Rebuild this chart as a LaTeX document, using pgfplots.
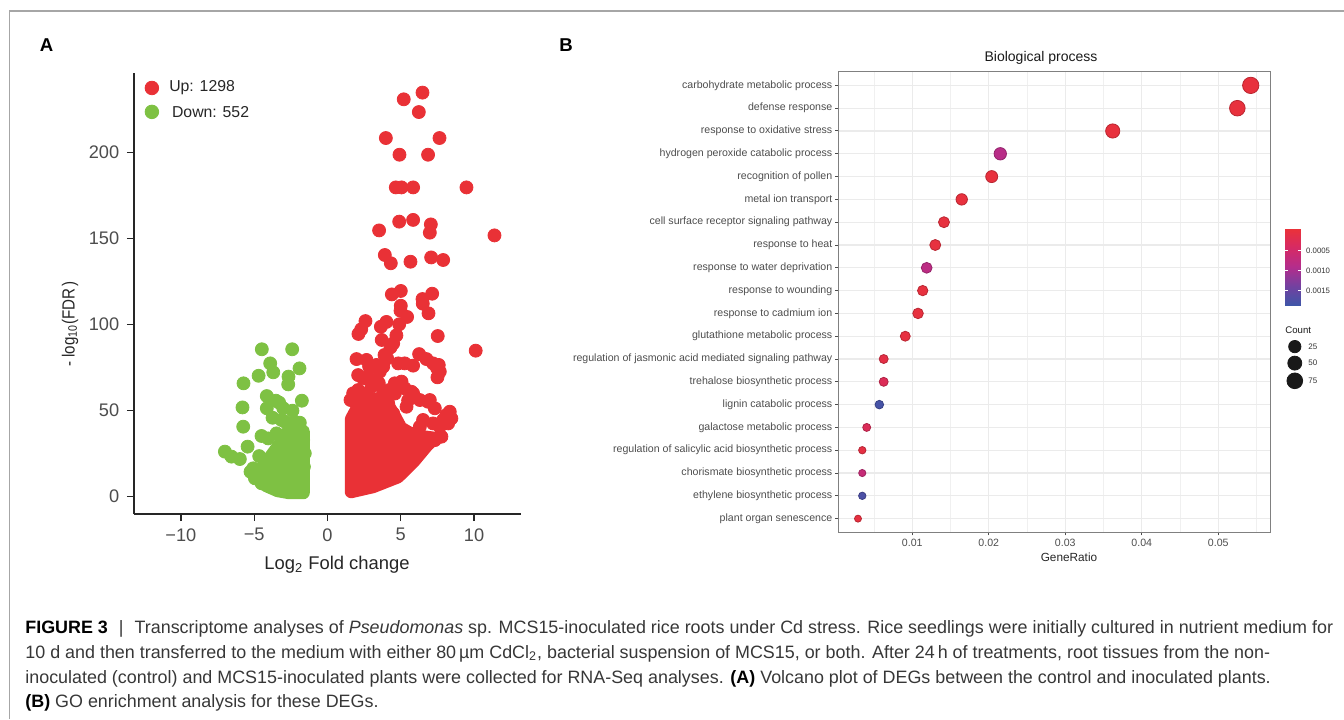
\documentclass[border=0pt]{standalone}
\usepackage{pgfplots}
\pgfplotsset{compat=1.18}
\usepackage{pgfplotstable}
\usepackage{fontspec}
\setmainfont{Liberation Sans}
\newcommand\fs[1]{\fontsize{#1}{#1}\selectfont}
\definecolor{upred}{RGB}{233,49,54}
\definecolor{downgreen}{RGB}{126,193,67}
\definecolor{ticklab}{RGB}{77,77,77}
\definecolor{captxt}{RGB}{55,55,55}

\pgfplotstableread{
x y
6.48 234.9
5.2 231
6.23 223.6
3.98 208.5
7.64 208.5
4.91 198.8
6.86 198.8
4.66 179.8
5.05 179.8
5.84 179.8
9.48 179.8
4.89 159.9
5.84 160.9
7.05 158.3
6.98 153.5
3.52 154.8
11.39 151.9
3.91 140.5
4.32 135.7
5.66 136.6
7.07 139.1
7.89 137.6
4.39 117.6
5.0 119.6
6.48 114.9
6.5 112.2
7.14 118
5.0 111
4.98 108.1
5.43 104.5
6.89 106.6
4.89 100.2
2.59 102.1
2.3 97.3
2.11 94.6
3.64 98.8
4.02 101.6
3.7 91.1
4.7 93.8
4.48 89.1
4.3 86.8
7.52 93.4
10.11 84.9
6.25 82.9
3.89 82.4
4.07 80.4
1.98 80
2.66 79.5
6.75 80
7.2 77.5
7.59 76.6
7.48 74.6
7.66 72.7
7.5 69.4
5.84 76.2
5.27 77.5
4.82 77.5
3.8 75.6
3.34 76.6
2.84 75.6
2.09 70.7
2.43 68.8
2.77 69.8
3.57 72.7
3.11 66.9
4.59 65.9
5.05 66.9
5.27 63
5.73 61
2.09 62
1.75 60.1
1.57 56.2
2.66 60.1
3.8 61
5.84 60.1
6.3 56.2
6.86 55.2
6.98 56.2
7.32 51.4
8.34 49.4
8.45 45.5
8.23 42.6
7.66 40.7
7.2 42.6
6.52 44.6
6.3 40.7
6.18 34.9
7.77 34.9
7.32 32.9
4.48 48.4
5.39 52.3
4.14 54.3
7.89 44.6
8.11 47.5
3.0 64
3.5 66
4.2 62
4.6 60
2.4 57
5.5 56
}\upscatter

\pgfplotstableread{
x y
-4.48 85.7
-2.41 85.7
-3.91 77.5
-3.7 72.3
-1.91 74.6
-4.7 70.3
-2.66 69.8
-2.68 65.3
-5.73 65.9
-4.14 58.5
-3.52 55.8
-3.3 54.7
-1.75 55.8
-5.8 51.9
-4.14 51.4
-3.02 51.4
-2.39 50
-3.75 45.9
-3.14 44.6
-2.23 43.6
-1.89 43
-5.75 40.7
-4.5 35.3
-4.05 33.9
-3.48 36.8
-5.45 29.1
-7.0 26.2
-6.55 23.3
-5.98 21.9
-4.66 23.6
-5.07 16.5
-5.25 14.5
-4.95 10.7
-4.5 7.8
-1.77 38.4
-1.66 32.9
-1.55 25.2
-1.61 17.4
-2.57 40.7
-2.9 43.6
}\downscatter

\pgfplotstableread{
pos ratio padj count ms
20 0.05424 0.00001 66 4.08
19 0.05249 0.00001 64 3.9
18 0.03620 0.00001 44 3.55
17 0.02150 0.00085 26 3.1
16 0.02038 0.00002 25 3.0
15 0.01646 0.00002 20 2.85
14 0.01414 0.00003 17 2.75
13 0.01300 0.00003 16 2.75
12 0.01188 0.00080 15 2.7
11 0.01136 0.00003 14 2.6
10 0.01075 0.00003 13 2.65
9 0.00908 0.00004 11 2.5
8 0.00626 0.00010 8 2.25
7 0.00626 0.00028 8 2.25
6 0.00569 0.00180 7 2.15
5 0.00404 0.00030 5 2.0
4 0.00346 0.00008 4 1.85
3 0.00346 0.00065 4 1.8
2 0.00346 0.00175 4 1.85
1 0.00290 0.00004 4 1.75
}\godata

\begin{document}
\begin{tikzpicture}[x=0.5pt,y=-0.5pt]
\useasboundingbox (0,0) rectangle (1344,719);
\draw[black!35, line width=0.65pt] (9.3,719) -- (9.3,11) -- (1344,11);
\node[font=\bfseries\fs{9.3}] at (46.5,45) {A};
\node[font=\bfseries\fs{9.3}] at (566,45) {B};

% ---------------- Panel A ----------------
\begin{axis}[
  at={(67pt,-257pt)}, anchor=south west, scale only axis,
  width=193.5pt, height=220.5pt,
  xmin=-13.2, xmax=13.2, ymin=-10.06, ymax=246.3,
  axis lines*=left,
  axis line style={line width=0.65pt, black!85},
  xtick={-10,-5,0,5,10}, xticklabels={−10,−5,0,5,10},
  ytick={0,50,100,150,200},
  tick align=outside, major tick length=3.6pt,
  tick style={line width=0.65pt, black!85},
  ticklabel style={font=\fs{9.1}, color=ticklab},
  xticklabel style={inner sep=0pt, yshift=-3.4pt},
  yticklabel style={inner sep=0pt, xshift=-3.6pt},
  /pgf/number format/assume math mode=true,
  clip=false,
]
\addplot[draw=downgreen, fill=downgreen, line width=6.5pt, line join=round, line cap=round]
  coordinates {(-1.65,2.3) (-1.65,38) (-2.2,40) (-2.8,37) (-3.3,30) (-3.9,23) (-4.5,16) (-4.7,11) (-4.2,6.5) (-3.4,3.5) (-2.6,2.3) (-1.65,2.3)};
\addplot[draw=upred, fill=upred, line width=6.5pt, line join=round, line cap=round]
  coordinates {(1.62,2.9) (3.1,5.8) (4.8,11.5) (5.9,20.8) (6.8,30) (7.3,34) (6.4,35) (5.6,37) (5.0,40) (4.5,48) (4.0,55) (3.3,57) (2.6,55) (2.0,51) (1.62,45) (1.62,2.9)};
\addplot[only marks, mark=*, mark size=3.25pt, color=downgreen] table {\downscatter};
\addplot[only marks, mark=*, mark size=3.25pt, color=upred] table {\upscatter};
% legend
\addplot[only marks, mark=*, mark size=3.4pt, color=upred] coordinates {(-11.98,237.6)};
\addplot[only marks, mark=*, mark size=3.4pt, color=downgreen] coordinates {(-11.98,223.7)};
\node[anchor=west, inner sep=0pt, font=\fs{7.9}, color=black!85] at (axis cs:-10.82,237.6) {Up: 1298};
\node[anchor=west, inner sep=0pt, font=\fs{7.9}, color=black!85] at (axis cs:-10.63,223.7) {Down: 552};
\end{axis}
\node[rotate=90, xscale=0.86, font=\fs{8.8}, color=black!85] at (70,324) {- log\textsubscript{10}(FDR\,)};
\node[font=\fs{9.2}, color=black!85] at (337,565) {Log\textsubscript{2} Fold change};

% ---------------- Panel B ----------------
\begin{axis}[
  at={(419.15pt,-266.15pt)}, anchor=south west, scale only axis,
  width=215.85pt, height=230.3pt,
  xmin=0.000327, xmax=0.05676, ymin=0.4, ymax=20.6,
  axis line style={black!50, line width=0.5pt},
  xtick={0.01,0.02,0.03,0.04,0.05}, xticklabels={0.01,0.02,0.03,0.04,0.05},
  minor xtick={0.005,0.015,0.025,0.035,0.045,0.055},
  ytick={1,...,20},
  yticklabels={plant organ senescence,ethylene biosynthetic process,chorismate biosynthetic process,regulation of salicylic acid biosynthetic process,galactose metabolic process,lignin catabolic process,trehalose biosynthetic process,regulation of jasmonic acid mediated signaling pathway,glutathione metabolic process,response to cadmium ion,response to wounding,response to water deprivation,response to heat,cell surface receptor signaling pathway,metal ion transport,recognition of pollen,hydrogen peroxide catabolic process,response to oxidative stress,defense response,carbohydrate metabolic process},
  xmajorgrids, xminorgrids, ymajorgrids,
  major grid style={color=black!8, line width=0.6pt},
  minor grid style={color=black!6, line width=0.35pt},
  tick pos=left, tick align=outside, major tick length=1.5pt, minor tick length=0pt,
  tick style={black!70, line width=0.5pt},
  ticklabel style={font=\fs{5.3}, color=ticklab},
  yticklabel style={inner sep=0pt, xshift=-1.3pt},
  xticklabel style={inner sep=0pt, yshift=-1.6pt},
  scaled x ticks=false,
  clip=false,
  colormap={gobp}{rgb255(0)=(235,50,55) rgb255(1)=(214,42,100) rgb255(2)=(180,45,140) rgb255(3)=(115,65,160) rgb255(4)=(62,86,168)},
  point meta min=-0.00006, point meta max=0.001875,
  colorbar,
  colorbar style={
    at={(parent axis.north east)}, anchor=north west,
    xshift=-1pt, yshift=-78.15pt,
    scale only axis, width=7.85pt, height=38.7pt,
    y dir=reverse,
    ytick={0.0005,0.001,0.0015}, yticklabels={0.0005,0.0010,0.0015},
    scaled y ticks=false,
    axis line style={draw=none},
    tick align=inside, ytick pos=both, yticklabel pos=right,
    major tick length=1.6pt,
    tick style={white, line width=0.4pt},
    yticklabel style={font=\fs{3.9}, color=black!80, inner sep=0pt, xshift=2.5pt},
  },
]
\addplot[scatter, only marks, mark=*, point meta=explicit,
  visualization depends on={\thisrow{ms} \as \msize},
  scatter/@pre marker code/.append style={/tikz/mark size=\msize pt}]
  table[x=ratio, y=pos, meta=padj] {\godata};
% size legend (Count)
\addplot[only marks, mark=*, mark size=3.08pt, color=black!90] coordinates {(0.06,8.544)};
\addplot[only marks, mark=*, mark size=3.5pt, color=black!90] coordinates {(0.06,7.82)};
\addplot[only marks, mark=*, mark size=3.93pt, color=black!90] coordinates {(0.06,7.044)};
\node[anchor=west, inner sep=0pt, font=\fs{4.8}, color=black!90] at (axis cs:0.05872,9.273) {Count};
\node[anchor=west, inner sep=0pt, font=\fs{4}, color=black!80] at (axis cs:0.06173,8.544) {25};
\node[anchor=west, inner sep=0pt, font=\fs{4}, color=black!80] at (axis cs:0.06173,7.82) {50};
\node[anchor=west, inner sep=0pt, font=\fs{4}, color=black!80] at (axis cs:0.06173,7.044) {75};
\end{axis}
\node[font=\fs{7}, color=black!90] at (1041,57.5) {Biological process};
\node[font=\fs{5.9}, color=black!85] at (1069,557) {GeneRatio};

% ---------------- Caption ----------------
\begin{scope}[every node/.style={anchor=base west, inner sep=0pt, font=\fs{8.95}, color=captxt}]
\node at (25,633) {{\color{black}\bfseries FIGURE 3}\hspace{5.5pt}|\hspace{5.5pt}Transcriptome analyses of \textit{Pseudomonas} sp. MCS15-inoculated rice roots under Cd stress. Rice seedlings were initially cultured in nutrient medium for};
\node at (25,658) {10 d and then transferred to the medium with either 80\,µm CdCl\textsubscript{2}, bacterial suspension of MCS15, or both. After 24\,h of treatments, root tissues from the non-};
\node at (25,683) {inoculated (control) and MCS15-inoculated plants were collected for RNA-Seq analyses. {\color{black}\bfseries (A)} Volcano plot of DEGs between the control and inoculated plants.};
\node at (25,707) {{\color{black}\bfseries (B)} GO enrichment analysis for these DEGs.};
\end{scope}
\end{tikzpicture}
\end{document}
